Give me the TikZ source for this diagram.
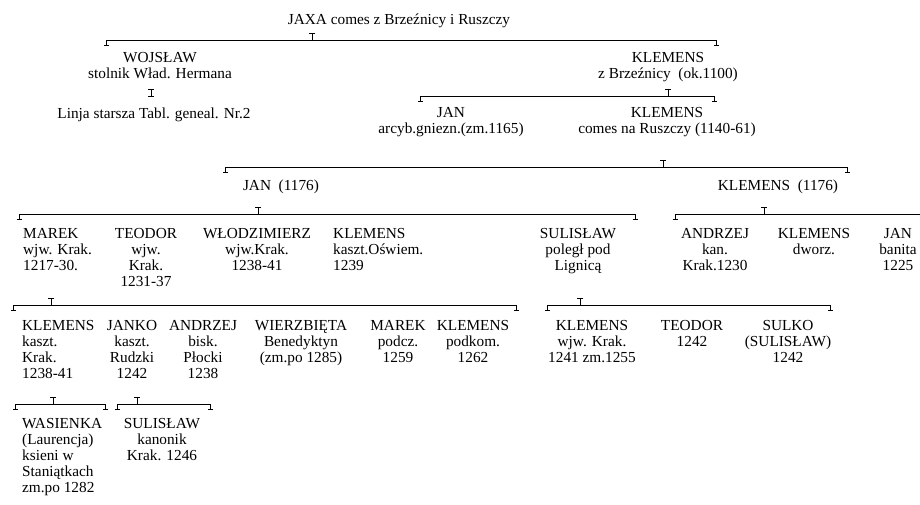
\documentclass[tikz,border=0pt]{standalone}
\usepackage{fontspec}
\setmainfont{Liberation Serif}
\usetikzlibrary{arrows.meta}
\newcommand\tfont{\fontsize{15.3}{16}\selectfont}
\newcommand\ls{\rule{0pt}{12pt}}
% family bracket: #1 name, #2 left x, #3 right x, #4 stem x, #5 bar y
\newcommand\famline[5]{%
  \coordinate (#1-l) at (#2,#5);
  \coordinate (#1-r) at (#3,#5);
  \coordinate (#1-t) at (#4,#5);
  \draw[link] ([yshift=-6pt]#1-l) -- (#1-l) -- (#1-r) -- ([yshift=-6pt]#1-r);
  \draw[stem] (#1-t) -- ([yshift=7pt]#1-t);
}
\begin{document}
\begin{tikzpicture}[x=1pt,y=-1pt,
  person/.style={inner sep=0pt, anchor=north, yshift=7pt, align=center, font=\tfont},
  lperson/.style={person, anchor=north west, align=left},
  link/.style={line width=1pt, {Bar[width=5pt]}-{Bar[width=5pt]}},
  openlink/.style={line width=1pt, {Bar[width=5pt]}-},
  stem/.style={line width=1pt, -{Bar[width=6pt]}},
  istem/.style={line width=1pt, {Bar[width=6pt]}-{Bar[width=6pt]}},
]
\useasboundingbox (0,0) rectangle (920,504);

% generation 0
\node[person] (jaxa) at (399,19) {\ls JAXA comes z Brzeźnicy i Ruszczy};

% generation 1
\node[person] (wojslaw) at (160,57) {\ls WOJSŁAW\\stolnik Wład. Hermana};
\node[person] (linja) at (154,113) {\ls Linja starsza Tabl. geneal. Nr.2};
\node[person] (klemensA) at (668,57) {\ls KLEMENS\\z Brzeźnicy\ \ (ok.1100)};

% generation 2
\node[person] (janA) at (451,112) {\ls JAN\\arcyb.gniezn.(zm.1165)};
\node[person] (klemensB) at (667,112) {\ls KLEMENS\\comes na Ruszczy (1140-61)};

% generation 3
\node[person] (janB) at (281,185) {\ls JAN\ \ (1176)};
\node[person] (klemensC) at (778,185) {\ls KLEMENS\ \ (1176)};

% generation 4
\node[lperson] (marekA) at (23,233) {\ls MAREK\\wjw. Krak.\\1217-30.};
\node[person] (teodorA) at (146,233) {\ls TEODOR\\wjw.\\Krak.\\1231-37};
\node[person] (wlodzimierz) at (257,233) {\ls WŁODZIMIERZ\\wjw.Krak.\\1238-41};
\node[lperson] (klemensD) at (333,233) {\ls KLEMENS\\kaszt.Oświem.\\1239};
\node[person] (sulislawA) at (578,233) {\ls SULISŁAW\\poległ pod\\Lignicą};
\node[person] (andrzejA) at (715,233) {\ls ANDRZEJ\\kan.\\Krak.1230};
\node[person] (klemensE) at (814,233) {\ls KLEMENS\\dworz.};
\node[person] (janC) at (898,233) {\ls JAN\\banita\\1225};

% generation 5
\node[lperson] (klemensF) at (22,325) {\ls KLEMENS\\kaszt.\\Krak.\\1238-41};
\node[person] (janko) at (132,325) {\ls JANKO\\kaszt.\\Rudzki\\1242};
\node[person] (andrzejB) at (203,325) {\ls ANDRZEJ\\bisk.\\Płocki\\1238};
\node[person] (wierzbieta) at (301,325) {\ls WIERZBIĘTA\\Benedyktyn\\(zm.po 1285)};
\node[person] (marekB) at (398,325) {\ls MAREK\\podcz.\\1259};
\node[person] (klemensG) at (473,325) {\ls KLEMENS\\podkom.\\1262};
\node[person] (klemensH) at (592,325) {\ls KLEMENS\\wjw. Krak.\\1241 zm.1255};
\node[person] (teodorB) at (692,325) {\ls TEODOR\\1242};
\node[person] (sulko) at (788,325) {\ls SULKO\\(SULISŁAW)\\1242};

% generation 6
\node[lperson] (wasienka) at (22,423) {\ls WASIENKA\\(Laurencja)\\ksieni w\\Staniątkach\\zm.po 1282};
\node[person] (sulislawB) at (162,423) {\ls SULISŁAW\\kanonik\\Krak. 1246};

% family brackets
\famline{jaxaF}{106}{716}{312}{40}
\famline{klemensAF}{420}{714}{668}{96}
\famline{klemensBF}{225}{847}{663}{167}
\famline{janBF}{19}{635}{258}{214}
\famline{marekAF}{13}{516}{51}{305}
\famline{sulislawAF}{547}{830}{580}{305}
\famline{klemensFF}{15}{105}{53}{404}
\famline{jankoF}{117}{210}{137}{404}

% the younger line of KLEMENS (1176) runs on past the right edge
\coordinate (klemensCF-l) at (675,214);
\coordinate (klemensCF-r) at (920,214);
\coordinate (klemensCF-t) at (764,214);
\draw[openlink] ([yshift=-6pt]klemensCF-l) -- (klemensCF-l) -- (klemensCF-r);
\draw[stem] (klemensCF-t) -- ([yshift=7pt]klemensCF-t);

% reference to the elder line
\coordinate (wojslaw-i) at (151,89);
\coordinate (linja-i) at (151,97);
\draw[istem] (wojslaw-i) -- (linja-i);
\end{tikzpicture}
\end{document}
